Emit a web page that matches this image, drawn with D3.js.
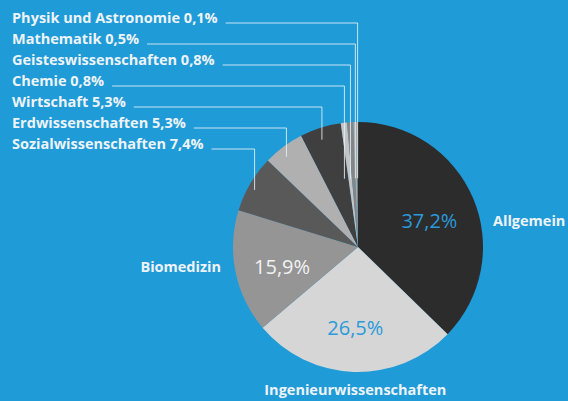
<!DOCTYPE html>
<html>
<head>
<meta charset="utf-8">
<script src="https://cdn.jsdelivr.net/npm/d3@7"></script>
<style>
  html, body { margin: 0; padding: 0; background: #1f9bd7; }
  svg { display: block; }
</style>
</head>
<body>
<div id="chart"></div>
<script>
// Fachgebiete — pie chart, slices clockwise from 12 o'clock
const categories = [
    'Allgemein', 'Ingenieurwissenschaften', 'Biomedizin', 'Sozialwissenschaften',
    'Erdwissenschaften', 'Wirtschaft', 'Chemie', 'Geisteswissenschaften',
    'Mathematik', 'Physik und Astronomie'
];
const shares = [37.2, 26.5, 15.9, 7.4, 5.3, 5.3, 0.8, 0.8, 0.5, 0.1];
const sliceColors = ['#2c2c2c', '#d6d6d6', '#959595', '#595959', '#b0b0b0',
                     '#3f3f3f', '#c4c4c4', '#858585', '#a8a8a8', '#505050'];
// big slices get a label in the pie, small ones are listed top left
const insideLabels = ['Allgemein', 'Ingenieurwissenschaften', 'Biomedizin'];
const listOrder = ['Physik und Astronomie', 'Mathematik', 'Geisteswissenschaften',
                   'Chemie', 'Wirtschaft', 'Erdwissenschaften', 'Sozialwissenschaften'];

(function () {
    const width = 568, height = 401;
    const cx = 358, cy = 247, r = 125;
    const fmt = v => v.toFixed(1).replace('.', ',') + '%';
    const font = '"Open Sans", sans-serif';

    const data = categories.map((c, i) => ({ cat: c, value: shares[i], color: sliceColors[i] }));

    const svg = d3.select('#chart').append('svg')
        .attr('width', width).attr('height', height);

    const g = svg.append('g').attr('transform', `translate(${cx},${cy})`);

    const pie = d3.pie().sort(null).value(d => d.value);
    const arcs = pie(data);
    const arc = d3.arc().innerRadius(0).outerRadius(r);
    const byCat = new Map(arcs.map(a => [a.data.cat, a]));

    g.selectAll('path').data(arcs).enter().append('path')
        .attr('d', arc)
        .attr('fill', d => d.data.color);

    // percentages inside + names outside
    const labelArc = d3.arc().innerRadius(r * 0.6).outerRadius(r * 0.64);
    insideLabels.forEach(cat => {
        const a = byCat.get(cat);
        const [lx, ly] = labelArc.centroid(a);
        g.append('text')
            .attr('x', lx).attr('y', ly + 4).attr('dy', '0.35em')
            .attr('text-anchor', 'middle')
            .attr('font-family', font).attr('font-size', '20px')
            .attr('fill', cat === 'Biomedizin' ? '#f2f2f2' : '#2a9ada')
            .text(fmt(a.data.value));

        const name = g.append('text')
            .attr('font-family', font).attr('font-weight', 700).attr('font-size', '14.5px')
            .attr('fill', '#eef3f7')
            .text(cat);
        if (cat === 'Allgemein') {
            name.attr('x', r + 10).attr('y', ly + 4).attr('dy', '0.35em');
        } else if (cat === 'Biomedizin') {
            name.attr('x', -r - 12).attr('y', ly + 4).attr('dy', '0.35em').attr('text-anchor', 'end');
        } else {
            name.attr('x', lx).attr('y', r + 23).attr('text-anchor', 'middle');
        }
    });

    // list at top left with leader lines into the slices
    const rowY = d3.scalePoint().domain(listOrder).range([23, 149]);
    const list = svg.append('g');
    listOrder.forEach(cat => {
        const a = byCat.get(cat);
        const y = rowY(cat);
        const t = list.append('text')
            .attr('x', 12).attr('y', y)
            .attr('font-family', font).attr('font-weight', 700).attr('font-size', '14.5px')
            .attr('fill', '#eef3f7')
            .text(`${cat} ${fmt(a.data.value)}`);
        const tw = t.node().getComputedTextLength();
        const mid = (a.startAngle + a.endAngle) / 2;
        const depth = a.data.value < 1 ? 0.55 : 0.9;
        const vx = cx + Math.sin(mid) * r * 0.96;
        const vy = cy - Math.cos(mid) * r * depth;
        list.append('path')
            .attr('d', `M${12 + tw + 8},${y}H${vx}V${vy}`)
            .attr('fill', 'none')
            .attr('stroke', '#e8f1f7').attr('stroke-opacity', 0.85)
            .attr('stroke-width', 1);
    });
})();
</script>
</body>
</html>
